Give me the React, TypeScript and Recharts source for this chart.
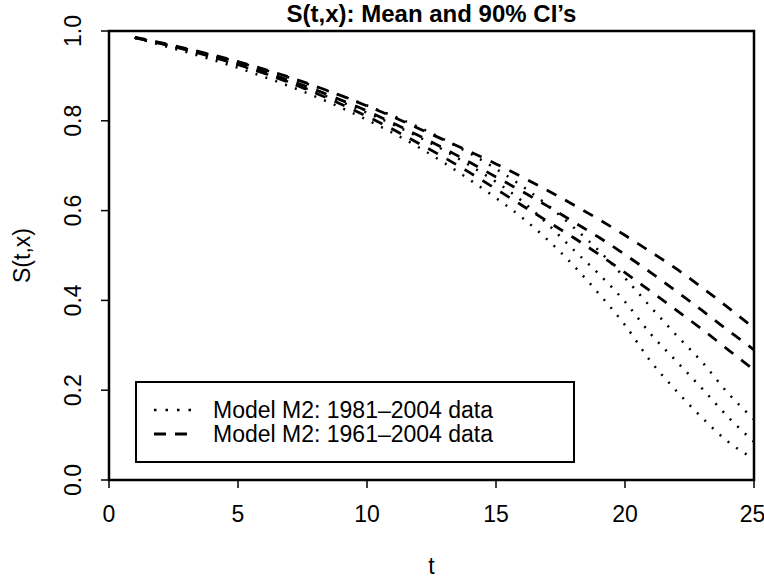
import React from "react";
import { LineChart, Line, XAxis, YAxis, ReferenceArea, Label } from "recharts";

// t grid and survival curves
const tValues = [1, 2, 3, 4, 5, 6, 7, 8, 9, 10, 11, 12, 13, 14, 15, 16, 17, 18, 19, 20, 21, 22, 23, 24, 25];

// Model M2: 1981-2004 data (dotted) - upper CI, mean, lower CI
const dotUpper = [0.985, 0.973, 0.96, 0.946, 0.931, 0.914, 0.896, 0.876, 0.856, 0.834, 0.811, 0.786, 0.758, 0.727, 0.693, 0.655, 0.612, 0.563, 0.51, 0.45, 0.385, 0.322, 0.262, 0.193, 0.135];
const dotMean = [0.985, 0.971, 0.957, 0.941, 0.924, 0.906, 0.886, 0.864, 0.842, 0.818, 0.792, 0.764, 0.734, 0.7, 0.664, 0.622, 0.57, 0.513, 0.458, 0.397, 0.325, 0.264, 0.203, 0.14, 0.085];
const dotLower = [0.985, 0.969, 0.953, 0.936, 0.918, 0.898, 0.877, 0.854, 0.829, 0.802, 0.773, 0.741, 0.706, 0.668, 0.628, 0.585, 0.535, 0.478, 0.414, 0.345, 0.264, 0.198, 0.138, 0.085, 0.047];

// Model M2: 1961-2004 data (dashed)
const dashUpper = [0.986, 0.974, 0.961, 0.947, 0.932, 0.915, 0.897, 0.877, 0.856, 0.833, 0.809, 0.783, 0.757, 0.731, 0.704, 0.675, 0.645, 0.613, 0.58, 0.545, 0.508, 0.47, 0.428, 0.384, 0.338];
const dashMean = [0.985, 0.973, 0.959, 0.944, 0.928, 0.91, 0.89, 0.869, 0.846, 0.822, 0.795, 0.767, 0.738, 0.707, 0.675, 0.643, 0.61, 0.575, 0.54, 0.502, 0.462, 0.42, 0.377, 0.333, 0.29];
const dashLower = [0.985, 0.972, 0.958, 0.942, 0.925, 0.906, 0.885, 0.862, 0.837, 0.81, 0.781, 0.75, 0.718, 0.684, 0.648, 0.612, 0.576, 0.54, 0.502, 0.462, 0.42, 0.378, 0.335, 0.29, 0.245];

const xTicks = [0, 5, 10, 15, 20, 25];
const yTicks = [0, 0.2, 0.4, 0.6, 0.8, 1.0];

const legendItems = [
  { label: "Model M2: 1981\u20132004 data", dash: "2.5 9", width: 2.5 },
  { label: "Model M2: 1961\u20132004 data", dash: "12 9", width: 2.8 },
];

const FONT = "'Liberation Sans', Arial, Helvetica, sans-serif";
const FS = 23;

const data = tValues.map((t, i) => ({
  t,
  dotUpper: dotUpper[i],
  dotMean: dotMean[i],
  dotLower: dotLower[i],
  dashUpper: dashUpper[i],
  dashMean: dashMean[i],
  dashLower: dashLower[i],
}));

const YTick = (props: any) => {
  const { x, y, payload } = props;
  return (
    <text
      x={x}
      y={y}
      transform={`rotate(-90, ${x}, ${y})`}
      textAnchor="middle"
      fontSize={FS}
      fontFamily={FONT}
      fill="#000"
    >
      {Number(payload.value).toFixed(1)}
    </text>
  );
};

export default function App() {
  const dotted = { stroke: "#000", strokeWidth: 2.5, strokeDasharray: "2 8.5" };
  const dashed = { stroke: "#000", strokeWidth: 2.8, strokeDasharray: "11 10" };

  return (
    <div style={{ position: "relative", width: 764, height: 581, background: "#fff", fontFamily: FONT, overflow: "hidden" }}>
      <style>{`body{margin:0}`}</style>
      <div
        style={{
          position: "absolute",
          left: 109,
          width: 645,
          top: 2,
          textAlign: "center",
          fontWeight: "bold",
          fontSize: 24,
          lineHeight: "24px",
        }}
      >
        S(t,x): Mean and 90% CI’s
      </div>

      <LineChart width={764} height={581} data={data} margin={{ top: 31, right: 10, bottom: 0, left: 0 }}>
        <XAxis
          type="number"
          dataKey="t"
          domain={[0, 25]}
          ticks={xTicks}
          axisLine={false}
          tickLine={{ stroke: "#000", strokeWidth: 1.5 }}
          tickSize={8}
          tickMargin={18}
          tick={{ fill: "#000", fontSize: FS, fontFamily: FONT }}
          height={101}
        >
          <Label
            content={({ viewBox }: any) => (
              <text x={viewBox.x + viewBox.width / 2} y={574} textAnchor="middle" fontSize={FS} fontFamily={FONT} fill="#000">
                t
              </text>
            )}
          />
        </XAxis>
        <YAxis
          type="number"
          domain={[0, 1]}
          ticks={yTicks}
          axisLine={false}
          tickLine={{ stroke: "#000", strokeWidth: 1.5 }}
          tickSize={8}
          tickMargin={20}
          tick={<YTick />}
          width={109}
        >
          <Label
            content={({ viewBox }: any) => {
              const cy = viewBox.y + viewBox.height / 2;
              return (
                <text x={30} y={cy} transform={`rotate(-90, 30, ${cy})`} textAnchor="middle" fontSize={FS} fontFamily={FONT} fill="#000">
                  S(t,x)
                </text>
              );
            }}
          />
        </YAxis>
        <ReferenceArea x1={0} x2={25} y1={0} y2={1} fill="none" stroke="#000" strokeWidth={2.5} ifOverflow="visible" />
        <Line type="monotone" dataKey="dotUpper" dot={false} activeDot={false} isAnimationActive={false} {...dotted} />
        <Line type="monotone" dataKey="dotMean" dot={false} activeDot={false} isAnimationActive={false} {...dotted} />
        <Line type="monotone" dataKey="dotLower" dot={false} activeDot={false} isAnimationActive={false} {...dotted} />
        <Line type="monotone" dataKey="dashUpper" dot={false} activeDot={false} isAnimationActive={false} {...dashed} />
        <Line type="monotone" dataKey="dashMean" dot={false} activeDot={false} isAnimationActive={false} {...dashed} />
        <Line type="monotone" dataKey="dashLower" dot={false} activeDot={false} isAnimationActive={false} {...dashed} />
      </LineChart>

      <div
        style={{
          position: "absolute",
          left: 135,
          top: 381,
          width: 436,
          height: 78,
          border: "2px solid #000",
          background: "#fff",
        }}
      >
        {legendItems.map((item, i) => (
          <div
            key={item.label}
            style={{ position: "absolute", left: 16, top: 15 + i * 24, display: "flex", alignItems: "center", height: 24 }}
          >
            <svg width={40} height={24} style={{ display: "block" }}>
              <line x1={1} y1={12} x2={39} y2={12} stroke="#000" strokeWidth={item.width} strokeDasharray={item.dash} />
            </svg>
            <span style={{ marginLeft: 20, fontSize: FS, lineHeight: "24px", whiteSpace: "nowrap" }}>{item.label}</span>
          </div>
        ))}
      </div>
    </div>
  );
}
